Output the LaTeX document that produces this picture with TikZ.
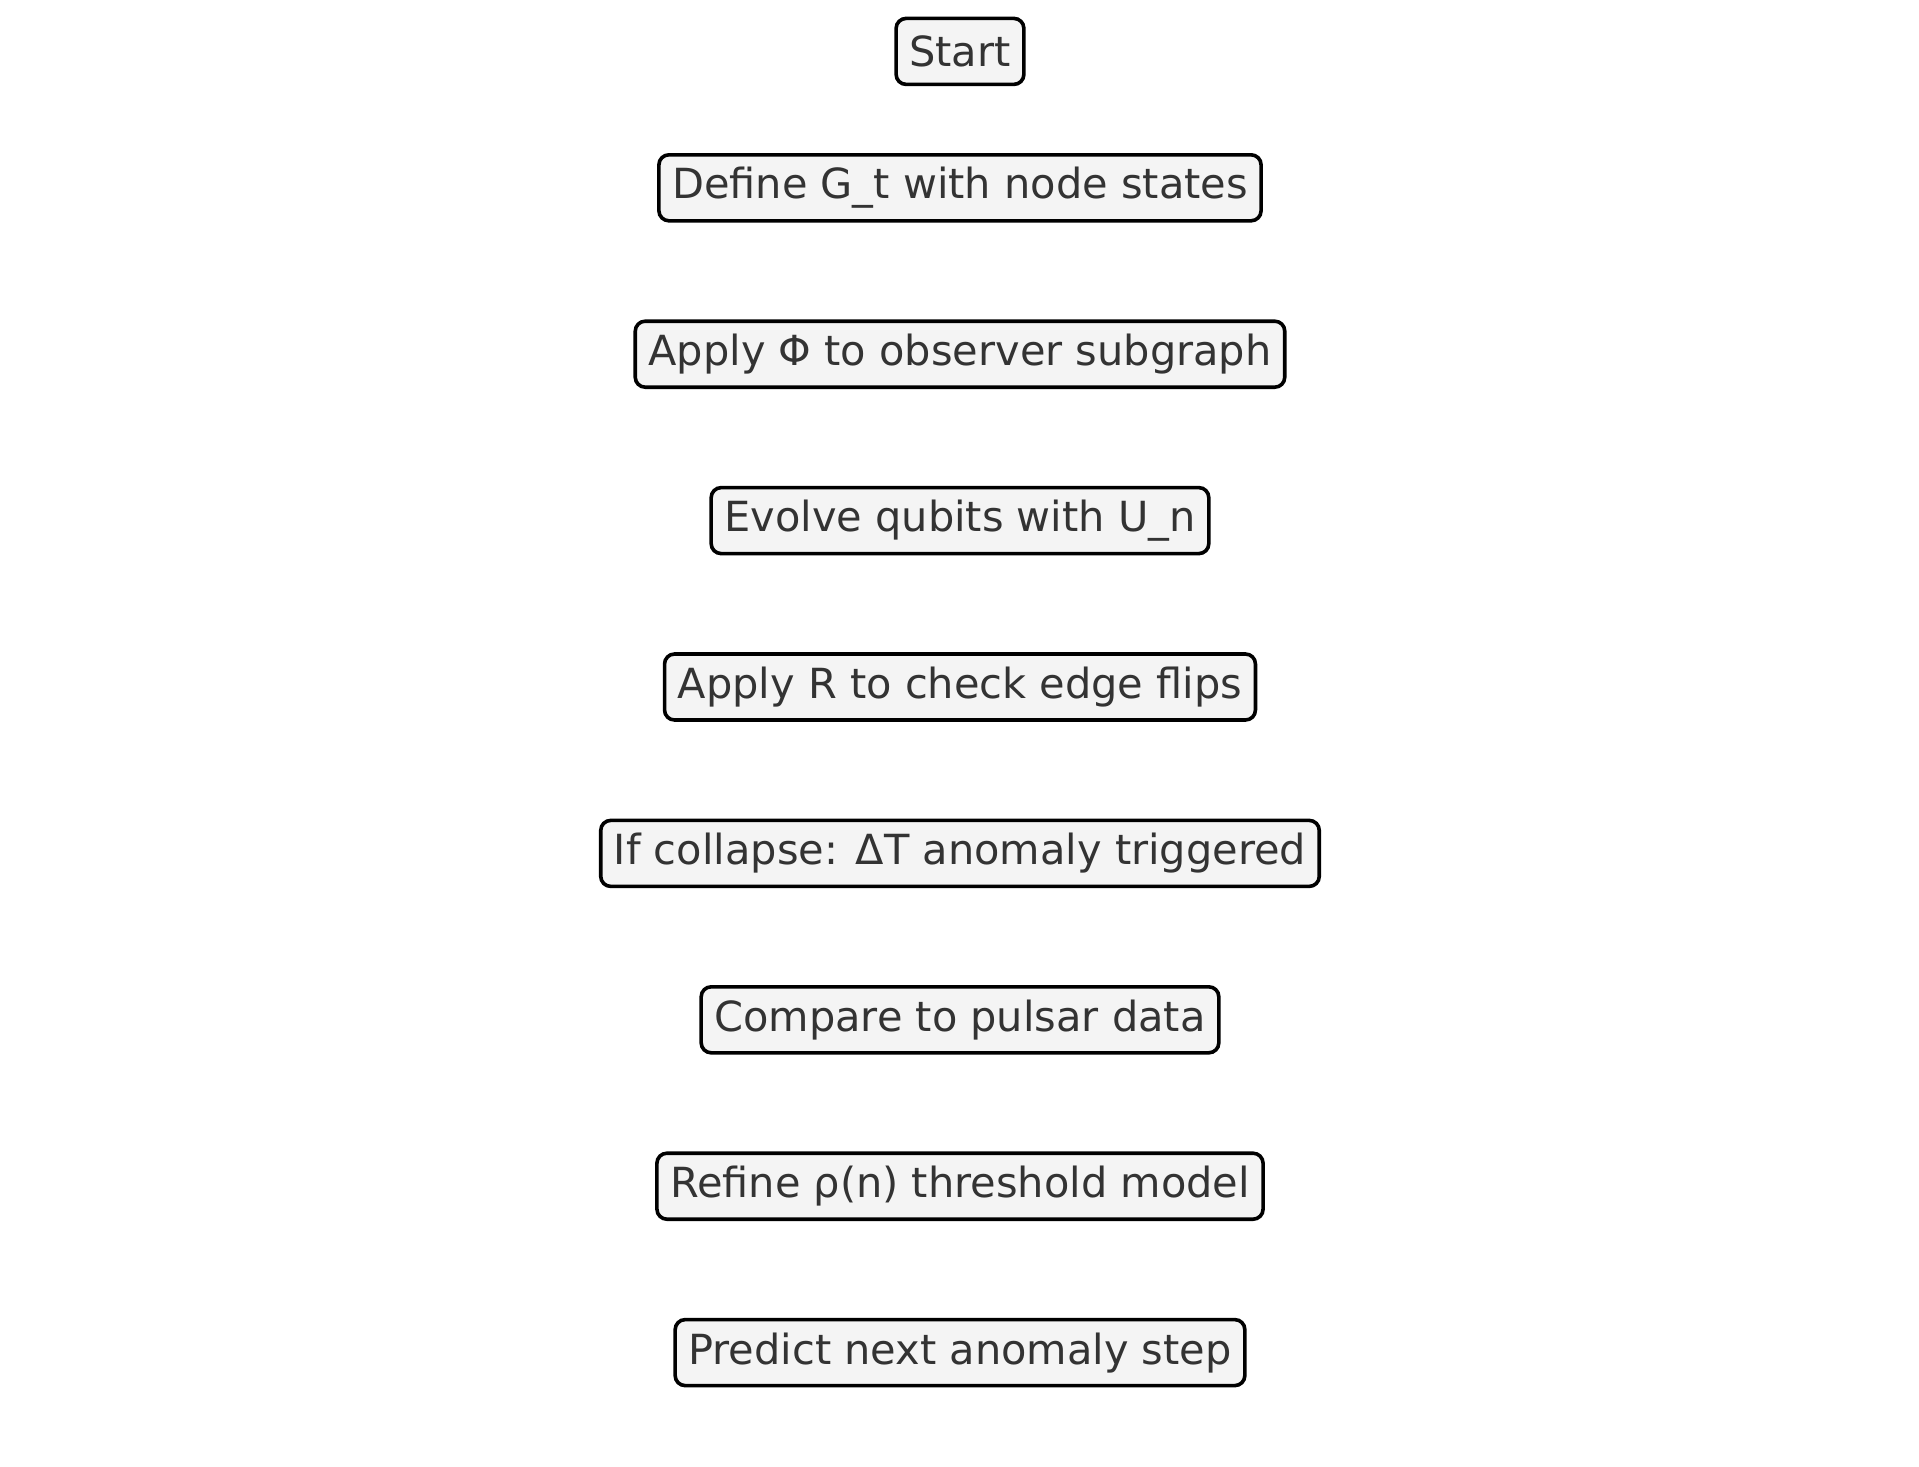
\documentclass[tikz,border=0pt]{standalone}
\usepackage{fontspec}
\setmainfont{DejaVu Sans}
\usepackage{xcolor}
\usepackage{tikz}
\usetikzlibrary{positioning}
\definecolor{stepink}{HTML}{333333}
\definecolor{stepbg}{HTML}{F4F4F4}
\definecolor{stepbd}{HTML}{000000}
\tikzset{
  stepbox/.style={draw=stepbd, fill=stepbg, rounded corners=5pt, align=center,
    minimum height=33pt, inner xsep=6.6pt, inner ysep=0pt, text=stepink,
    font=\fontsize{20.75}{24}\selectfont, line width=1.8pt, outer sep=0pt}
}
\begin{document}
\begin{tikzpicture}[node distance=50.2pt]
\useasboundingbox (0,0) rectangle (959.5pt,-733.5pt);
\node[stepbox] (start) at (480pt,-25.7pt) {Start};
\node[stepbox, below=35.2pt of start] (define) {Define G\_t with node states};
\node[stepbox, below=of define] (phi) {Apply Φ to observer subgraph};
\node[stepbox, below=of phi] (evolve) {Evolve qubits with U\_n};
\node[stepbox, below=of evolve] (flips) {Apply R to check edge flips};
\node[stepbox, below=of flips] (collapse) {If collapse: ΔT anomaly triggered};
\node[stepbox, below=of collapse] (pulsar) {Compare to pulsar data};
\node[stepbox, below=of pulsar] (refine) {Refine ρ(n) threshold model};
\node[stepbox, below=of refine] (predict) {Predict next anomaly step};
\end{tikzpicture}
\end{document}
